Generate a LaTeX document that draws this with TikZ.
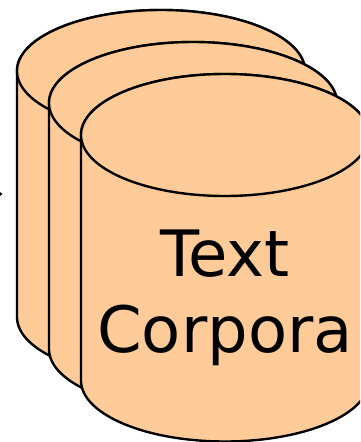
\documentclass[tikz,border=0pt]{standalone}
\usepackage{fontspec}
\setmainfont{DejaVu Sans}
\definecolor{drumfill}{HTML}{FFCC99}
\tikzset{
  drum/.style={fill=drumfill,draw=black,line width=2.4pt,line join=round},
  drumlabel/.style={inner sep=0pt,anchor=base,font=\fontsize{64}{76}\selectfont}
}
\newcommand{\drawdrum}[3]{% left x, top-ellipse centre y, bottom-ellipse centre y
  \path[drum] (#1,-#2) arc[start angle=180,end angle=0,x radius=144,y radius=61]
    -- (#1+288,-#3) arc[start angle=0,end angle=-180,x radius=144,y radius=61] -- cycle;
  \path[drum] (#1+144,-#2) ellipse[x radius=144,y radius=61];
}
\begin{document}
\begin{tikzpicture}[x=1pt,y=1pt]
\useasboundingbox (0,-442) rectangle (360,0);
\clip (0,-442) rectangle (360,0);
\fill[black] (2.5,-194) -- (-2,-190.5) -- (-2,-197.5) -- cycle;
\drawdrum{17}{71}{317}
\drawdrum{49}{103}{349}
\drawdrum{81}{135}{380.5}
\node[drumlabel] (textlabel) at (225,-276) {Text};
\node[drumlabel] (corporalabel) at (225,-352) {Corpora};
\end{tikzpicture}
\end{document}
